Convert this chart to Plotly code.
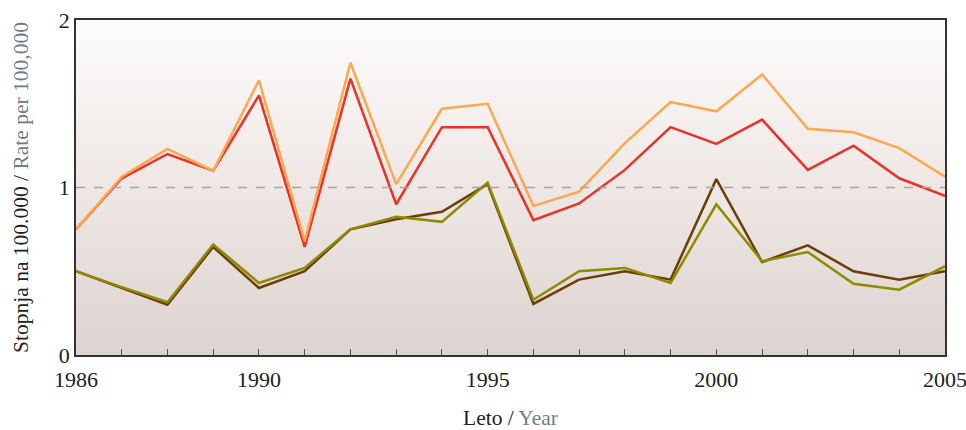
import plotly.graph_objects as go

years = list(range(1986, 2006))
orange_vals = [0.75, 1.065, 1.23, 1.10, 1.64, 0.68, 1.745, 1.02, 1.47, 1.50,
               0.89, 0.975, 1.265, 1.51, 1.455, 1.675, 1.35, 1.33, 1.235, 1.065]
red_vals = [0.75, 1.055, 1.20, 1.10, 1.55, 0.645, 1.65, 0.90, 1.36, 1.36,
            0.805, 0.905, 1.105, 1.36, 1.26, 1.405, 1.105, 1.25, 1.055, 0.95]
brown_vals = [0.50, 0.40, 0.30, 0.645, 0.40, 0.50, 0.75, 0.81, 0.855, 1.02,
              0.305, 0.45, 0.50, 0.45, 1.05, 0.555, 0.655, 0.50, 0.45, 0.50]
olive_vals = [0.50, 0.405, 0.315, 0.66, 0.43, 0.52, 0.75, 0.825, 0.795, 1.03,
              0.33, 0.50, 0.52, 0.43, 0.90, 0.56, 0.615, 0.425, 0.39, 0.53]
label_years = [1986, 1990, 1995, 2000, 2005]

FONT = "Liberation Serif"
GRAY = "#6f7c89"

fig = go.Figure()

# gradient background
fig.add_trace(go.Heatmap(
    x=[1986, 2005], y=[0, 2], z=[[0, 0], [1, 1]],
    zsmooth="best", showscale=False, hoverinfo="skip",
    colorscale=[[0, "#ddd3cf"], [0.5, "#eee7e4"], [1, "#fdfcfc"]],
))

fig.add_hline(y=1, line=dict(color="#a8a4a3", width=1.5, dash="dash"))

series = [
    ("brown", brown_vals, "#6b3d08"),
    ("olive", olive_vals, "#8c8a00"),
    ("red", red_vals, "#ec3228"),
    ("orange", orange_vals, "#fca84e"),
]
for name, vals, col in series:
    fig.add_trace(go.Scatter(x=years, y=vals, mode="lines", name=name,
                             line=dict(color=col, width=2.5)))

fig.update_layout(
    width=966, height=430,
    margin=dict(l=76, r=21, t=20, b=75),
    paper_bgcolor="white", plot_bgcolor="white",
    showlegend=False,
    font=dict(family=FONT, color="#222", size=22),
)
fig.update_xaxes(
    range=[1986, 2005], showgrid=False, zeroline=False, automargin=False,
    tickmode="array", tickvals=years,
    ticktext=[str(y) if y in label_years else "" for y in years],
    ticks="inside", ticklen=6, tickcolor="#555", tickwidth=1.2,
    showline=True, linecolor="#333", linewidth=1.5, mirror=True,
    title=dict(text="Leto / <span style='color:%s'>Year</span>" % GRAY,
               font=dict(size=21.5), standoff=20),
    tickfont=dict(size=22), ticklabelstandoff=4, ticklabeloverflow="allow",
)
fig.update_yaxes(
    range=[0, 2], showgrid=False, zeroline=False, automargin=False,
    tickmode="array", tickvals=[0, 1, 2], ticktext=["0", "1", "2"],
    ticks="", showline=True, linecolor="#333", linewidth=1.5, mirror=True,
    title=dict(text="Stopnja na 100.000 / <span style='color:%s'>Rate per 100,000</span>" % GRAY,
               font=dict(size=21.5), standoff=24),
    tickfont=dict(size=22), ticklabeloverflow="allow",
)

fig.write_html(
    "out.html",
    config={"displayModeBar": False},
    post_script="document.body.style.margin='0';document.body.style.overflow='hidden';",
)
